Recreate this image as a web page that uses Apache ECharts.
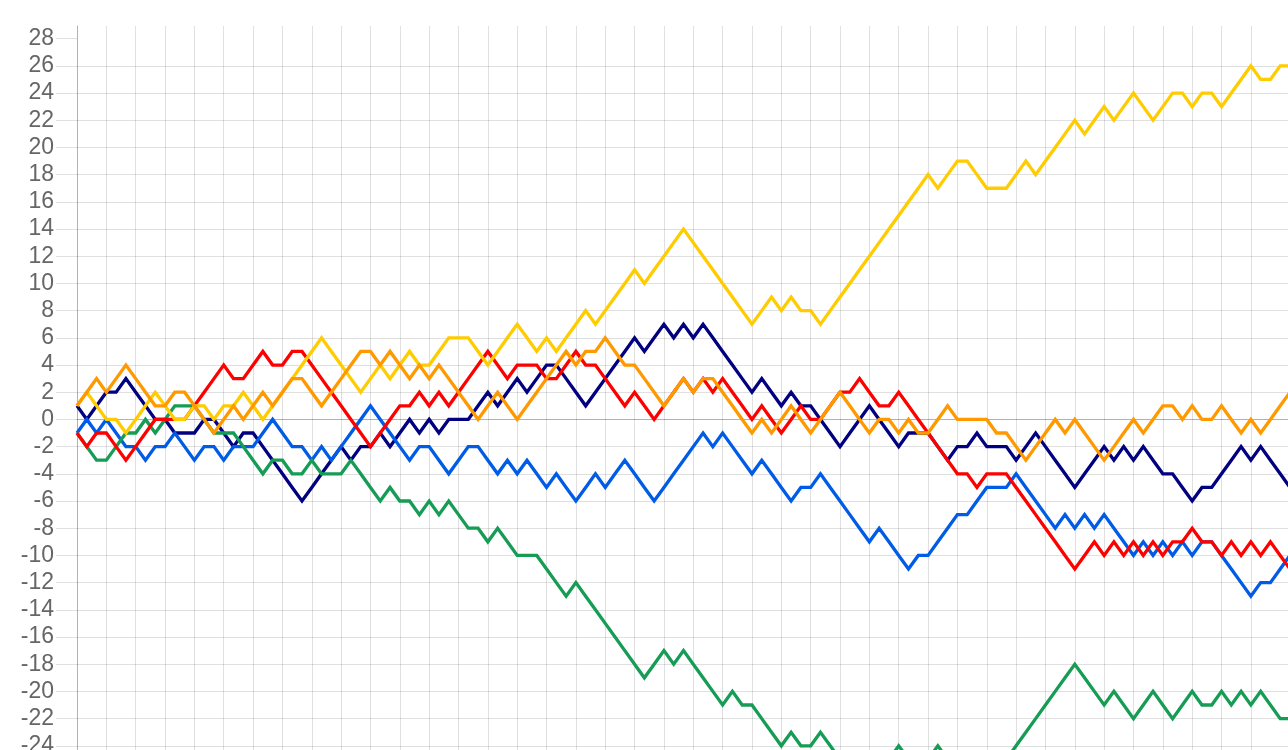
<!DOCTYPE html>
<html>
<head>
<meta charset="utf-8">
<script src="https://cdn.jsdelivr.net/npm/echarts@6/dist/echarts.min.js"></script>
<style>
html,body{margin:0;padding:0;background:#fff;}
#chart{width:1288px;height:750px;}
</style>
</head>
<body>
<div id="chart"></div>
<script>
const yTicks = [-26,-24,-22,-20,-18,-16,-14,-12,-10,-8,-6,-4,-2,0,2,4,6,8,10,12,14,16,18,20,22,24,26,28];

const navy = [1,0,1,2,2,3,2,1,0,0,
-1,-1,-1,0,0,-1,-2,-1,-1,-2,
-3,-4,-5,-6,-5,-4,-3,-2,-3,-2,
-2,-1,-2,-1,0,-1,0,-1,0,0,
0,1,2,1,2,3,2,3,4,4,
3,2,1,2,3,4,5,6,5,6,
7,6,7,6,7,6,5,4,3,2,
3,2,1,2,1,1,0,-1,-2,-1,
0,1,0,-1,-2,-1,-1,-1,-2,-3,
-2,-2,-1,-2,-2,-2,-3,-2,-1,-2,
-3,-4,-5,-4,-3,-2,-3,-2,-3,-2,
-3,-4,-4,-5,-6,-5,-5,-4,-3,-2,
-3,-2,-3,-4,-5];

const blue = [-1,0,-1,0,-1,-2,-2,-3,-2,-2,
-1,-2,-3,-2,-2,-3,-2,-2,-2,-1,
0,-1,-2,-2,-3,-2,-3,-2,-1,0,
1,0,-1,-2,-3,-2,-2,-3,-4,-3,
-2,-2,-3,-4,-3,-4,-3,-4,-5,-4,
-5,-6,-5,-4,-5,-4,-3,-4,-5,-6,
-5,-4,-3,-2,-1,-2,-1,-2,-3,-4,
-3,-4,-5,-6,-5,-5,-4,-5,-6,-7,
-8,-9,-8,-9,-10,-11,-10,-10,-9,-8,
-7,-7,-6,-5,-5,-5,-4,-5,-6,-7,
-8,-7,-8,-7,-8,-7,-8,-9,-10,-9,
-10,-9,-10,-9,-10,-9,-9,-10,-11,-12,
-13,-12,-12,-11,-10];

const green = [-1,-2,-3,-3,-2,-1,-1,0,-1,0,
1,1,1,0,-1,-1,-1,-2,-3,-4,
-3,-3,-4,-4,-3,-4,-4,-4,-3,-4,
-5,-6,-5,-6,-6,-7,-6,-7,-6,-7,
-8,-8,-9,-8,-9,-10,-10,-10,-11,-12,
-13,-12,-13,-14,-15,-16,-17,-18,-19,-18,
-17,-18,-17,-18,-19,-20,-21,-20,-21,-21,
-22,-23,-24,-23,-24,-24,-23,-24,-25,-25,
-26,-26,-25,-25,-24,-25,-25,-25,-24,-25,
-25,-26,-26,-26,-25,-25,-24,-23,-22,-21,
-20,-19,-18,-19,-20,-21,-20,-21,-22,-21,
-20,-21,-22,-21,-20,-21,-21,-20,-21,-20,
-21,-20,-21,-22,-22];

const red = [-1,-2,-1,-1,-2,-3,-2,-1,0,0,
0,0,1,2,3,4,3,3,4,5,
4,4,5,5,4,3,2,1,0,-1,
-2,-1,0,1,1,2,1,2,1,2,
3,4,5,4,3,4,4,4,3,3,
4,5,4,4,3,2,1,2,1,0,
1,2,3,2,3,2,3,2,1,0,
1,0,-1,0,1,0,0,1,2,2,
3,2,1,1,2,1,0,-1,-2,-3,
-4,-4,-5,-4,-4,-4,-5,-6,-7,-8,
-9,-10,-11,-10,-9,-10,-9,-10,-9,-10,
-9,-10,-9,-9,-8,-9,-9,-10,-9,-10,
-9,-10,-9,-10,-11];

const yellow = [1,2,1,0,0,-1,0,1,2,1,
0,0,1,1,0,1,1,2,1,0,
1,2,3,4,5,6,5,4,3,2,
3,4,3,4,5,4,4,5,6,6,
6,5,4,5,6,7,6,5,6,5,
6,7,8,7,8,9,10,11,10,11,
12,13,14,13,12,11,10,9,8,7,
8,9,8,9,8,8,7,8,9,10,
11,12,13,14,15,16,17,18,17,18,
19,19,18,17,17,17,18,19,18,19,
20,21,22,21,22,23,22,23,24,23,
22,23,24,24,23,24,24,23,24,25,
26,25,25,26,26];

const orange = [1,2,3,2,3,4,3,2,1,1,
2,2,1,0,-1,0,1,0,1,2,
1,2,3,3,2,1,2,3,4,5,
5,4,5,4,3,4,3,4,3,2,
1,0,1,2,1,0,1,2,3,4,
5,4,5,5,6,5,4,4,3,2,
1,2,3,2,3,3,2,1,0,-1,
0,-1,0,1,0,-1,0,1,2,1,
0,-1,0,0,-1,0,-1,-1,0,1,
0,0,0,0,-1,-1,-2,-3,-2,-1,
0,-1,0,-1,-2,-3,-2,-1,0,-1,
0,1,1,0,1,0,0,1,0,-1,
0,-1,0,1,2];

const categories = navy.map((_, i) => String(i + 1));

const seriesDefs = [
  {name: 'A', data: navy, color: '#000080'},
  {name: 'B', data: blue, color: '#005ce6'},
  {name: 'C', data: green, color: '#169c55'},
  {name: 'D', data: red, color: '#ff0000'},
  {name: 'E', data: yellow, color: '#ffcc00'},
  {name: 'F', data: orange, color: '#ff9900'}
];

const gridColor = 'rgba(0,0,0,0.12)';

const chart = echarts.init(document.getElementById('chart'), null, {renderer: 'canvas'});
chart.setOption({
  animation: false,
  backgroundColor: '#ffffff',
  grid: {left: 77, top: 26, right: -2, bottom: -23, containLabel: false, outerBoundsMode: 'none'},
  xAxis: {
    type: 'category',
    data: categories,
    boundaryGap: false,
    axisLine: {show: true, onZero: true, lineStyle: {color: 'rgba(0,0,0,0.2)', width: 1}},
    axisTick: {show: false},
    axisLabel: {show: false},
    splitLine: {
      show: true,
      interval: function (idx) { return idx > 0 && idx % 3 === 0 && idx <= 120; },
      lineStyle: {color: gridColor, width: 1}
    }
  },
  yAxis: {
    type: 'value',
    min: -26,
    max: 28.93,
    interval: 2,
    axisLine: {show: true, lineStyle: {color: 'rgba(0,0,0,0.3)', width: 1}},
    axisTick: {show: true, length: 21, customValues: yTicks, lineStyle: {color: gridColor}},
    axisLabel: {show: true, customValues: yTicks, margin: 23, color: '#666666', fontSize: 23, fontFamily: 'Liberation Sans'},
    splitLine: {show: true, showMaxLine: false, lineStyle: {color: gridColor, width: 1}}
  },
  series: seriesDefs.map(s => ({
    name: s.name,
    type: 'line',
    data: s.data,
    showSymbol: false,
    symbol: 'none',
    smooth: false,
    lineStyle: {color: s.color, width: 3.3, join: 'miter'},
    itemStyle: {color: s.color},
    emphasis: {disabled: true}
  }))
});
</script>
</body>
</html>
